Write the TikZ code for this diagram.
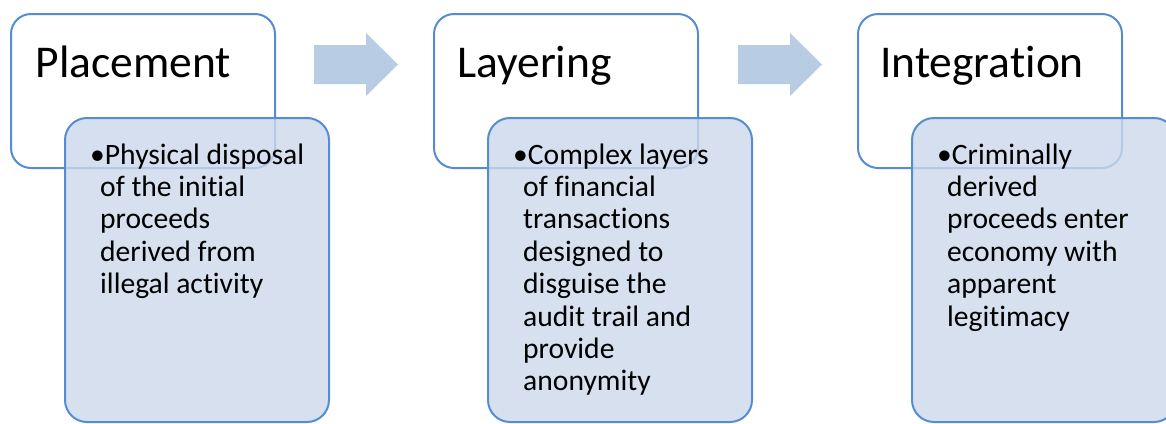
\documentclass[tikz,border=0pt]{standalone}
\usepackage{fontspec}
\setmainfont{Carlito}[Ligatures=NoCommon]
\definecolor{bord}{RGB}{84,141,212}
\definecolor{lowfill}{RGB}{204,216,235}
\definecolor{arrfill}{RGB}{184,204,228}
\begin{document}
\begin{tikzpicture}[x=1pt,y=-1pt]
\tikzset{
 topbox/.style={draw=bord, line width=2pt, fill=white, rounded corners=20pt, minimum width=264pt, minimum height=154pt, anchor=north west, inner sep=0pt},
 lowbox/.style={draw=bord, line width=2pt, fill=lowfill, fill opacity=0.8, rounded corners=22pt, minimum width=264pt, minimum height=304pt, anchor=north west, inner sep=0pt},
 titletext/.style={anchor=base west, inner sep=0pt, font=\fontsize{45.5}{52}\selectfont},
 bodytext/.style={anchor=base west, inner sep=0pt, font=\fontsize{29.6}{32.4}\selectfont},
 stagearrow/.style={fill=arrfill}
}
\useasboundingbox (0,0) rectangle (1166,423);
\clip (0,0) rectangle (1166,423);
% stage 1
\node[topbox] (t1) at (10,13) {};
\node[lowbox] (l1) at (64,117) {};
\node[titletext] (h1) at (35.5,77) {Placement};
\node[bodytext] (b1) at (100,164) {\parbox[t]{240pt}{\raggedright\hspace*{-10pt}•Physical disposal\\of the initial\\proceeds\\derived from\\illegal activity}};
% stage 2
\node[topbox] (t2) at (433,13) {};
\node[lowbox] (l2) at (487,117) {};
\node[titletext] (h2) at (457,77) {Layering};
\node[bodytext] (b2) at (523,164) {\parbox[t]{240pt}{\raggedright\hspace*{-10pt}•Complex layers\\of financial\\transactions\\designed to\\disguise the\\audit trail and\\provide\\anonymity}};
% stage 3
\node[topbox] (t3) at (857,13) {};
\node[lowbox] (l3) at (911,117) {};
\node[titletext] (h3) at (880,77) {Integration};
\node[bodytext] (b3) at (947,164) {\parbox[t]{240pt}{\raggedright\hspace*{-10pt}•Criminally\\derived\\proceeds enter\\economy with\\apparent\\legitimacy}};
% arrows
\fill[stagearrow] (314,45) -- (366,45) -- (366,33) -- (398,64.5) -- (366,96) -- (366,84) -- (314,84) -- cycle;
\fill[stagearrow] (738,45) -- (790,45) -- (790,33) -- (822,64.5) -- (790,96) -- (790,84) -- (738,84) -- cycle;
\end{tikzpicture}
\end{document}
